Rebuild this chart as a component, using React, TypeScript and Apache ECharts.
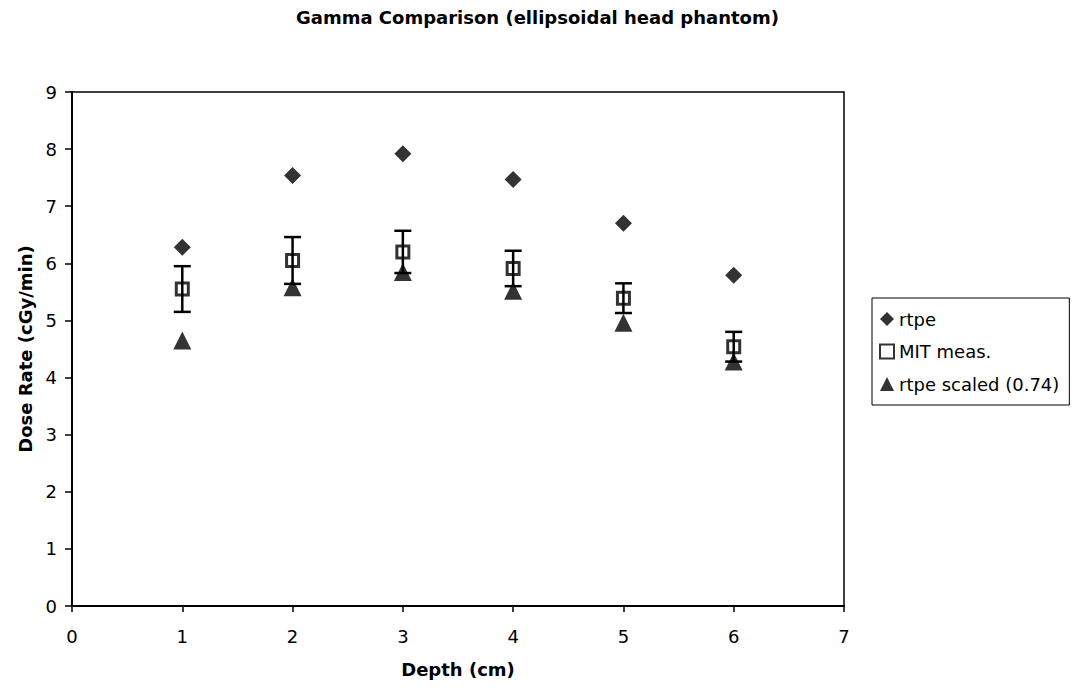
import React, { useEffect, useRef } from "react";
import * as echarts from "echarts";

const depths = [1, 2, 3, 4, 5, 6];
const rtpe = [6.28, 7.54, 7.92, 7.47, 6.7, 5.79];
const mitMeas = [5.55, 6.05, 6.2, 5.91, 5.39, 4.54];
const mitErr = [0.4, 0.41, 0.37, 0.31, 0.26, 0.26];
const rtpeScaled = [4.65, 5.58, 5.85, 5.52, 4.96, 4.28];
const seriesNames = ["rtpe", "MIT meas.", "rtpe scaled (0.74)"];

const FONT = "'DejaVu Sans', Verdana, sans-serif";

export default function App() {
  const ref = useRef<HTMLDivElement>(null);
  useEffect(() => {
    if (!ref.current) return;
    const chart = echarts.init(ref.current, undefined, { renderer: "svg" });
    const errData = depths.map((d, i) => [d, mitMeas[i], mitErr[i]]);
    chart.setOption({
      animation: false,
      backgroundColor: "#fff",
      textStyle: { fontFamily: FONT, color: "#000" },
      title: {
        text: "Gamma Comparison (ellipsoidal head phantom)",
        left: 291,
        top: 3,
        textStyle: { fontFamily: FONT, fontSize: 18, fontWeight: "bold", color: "#000" },
      },
      grid: {
        left: 72,
        right: 232,
        top: 92,
        bottom: 83,
        show: true,
        borderColor: "#000",
        borderWidth: 1.5,
        backgroundColor: "#fff",
      },
      legend: {
        data: seriesNames,
        orient: "vertical",
        left: 872,
        top: 298,
        padding: [12, 10, 12, 7],
        itemGap: 14.5,
        itemWidth: 14,
        itemHeight: 14,
        borderColor: "#000",
        borderWidth: 1,
        backgroundColor: "#fff",
        borderRadius: 0,
        textStyle: { fontFamily: FONT, fontSize: 18, color: "#000", lineHeight: 16 },
      },
      xAxis: {
        type: "value",
        min: 0,
        max: 7,
        interval: 1,
        name: "Depth (cm)",
        nameLocation: "middle",
        nameGap: 54,
        nameTextStyle: { fontFamily: FONT, fontSize: 18, fontWeight: "bold", color: "#000" },
        axisLine: { show: true, onZero: false, lineStyle: { color: "#000", width: 2 } },
        axisTick: { show: true, inside: false, length: 6, lineStyle: { color: "#000", width: 1.5 } },
        axisLabel: { fontFamily: FONT, fontSize: 18, color: "#000", margin: 21 },
        splitLine: { show: false },
      },
      yAxis: {
        type: "value",
        min: 0,
        max: 9,
        interval: 1,
        name: "Dose Rate (cGy/min)",
        nameLocation: "middle",
        nameGap: 38,
        nameRotate: 90,
        nameTextStyle: { fontFamily: FONT, fontSize: 18, fontWeight: "bold", color: "#000" },
        axisLine: { show: true, onZero: false, lineStyle: { color: "#000", width: 2 } },
        axisTick: { show: true, inside: false, length: 7, lineStyle: { color: "#000", width: 1.5 } },
        axisLabel: { fontFamily: FONT, fontSize: 18, color: "#000", margin: 15 },
        splitLine: { show: false },
      },
      series: [
        {
          name: "MIT err",
          type: "custom",
          z: 2,
          data: errData,
          renderItem: (params: any, api: any) => {
            const x = api.value(0);
            const y = api.value(1);
            const e = api.value(2);
            const top = api.coord([x, y + e]);
            const bot = api.coord([x, y - e]);
            const hw = 8.5;
            const style = { stroke: "#000", lineWidth: 2.5 };
            return {
              type: "group",
              children: [
                { type: "line", shape: { x1: top[0], y1: top[1], x2: bot[0], y2: bot[1] }, style },
                { type: "line", shape: { x1: top[0] - hw, y1: top[1], x2: top[0] + hw, y2: top[1] }, style },
                { type: "line", shape: { x1: bot[0] - hw, y1: bot[1], x2: bot[0] + hw, y2: bot[1] }, style },
              ],
            };
          },
        },
        {
          name: seriesNames[0],
          type: "scatter",
          z: 4,
          symbol: "diamond",
          symbolSize: 17,
          itemStyle: { color: "#000" },
          data: depths.map((d, i) => [d, rtpe[i]]),
        },
        {
          name: seriesNames[1],
          type: "scatter",
          z: 3,
          symbol: "rect",
          symbolSize: 12,
          itemStyle: { color: "rgba(255,255,255,0)", borderColor: "#000", borderWidth: 3 },
          data: depths.map((d, i) => [d, mitMeas[i]]),
        },
        {
          name: seriesNames[2],
          type: "scatter",
          z: 5,
          symbol: "triangle",
          symbolSize: 18,
          itemStyle: { color: "#000" },
          data: depths.map((d, i) => [d, rtpeScaled[i]]),
        },
      ],
    });
    return () => chart.dispose();
  }, []);
  return (
    <div
      ref={ref}
      style={{ position: "absolute", left: 0, top: 0, width: 1076, height: 689, background: "#fff" }}
    />
  );
}
